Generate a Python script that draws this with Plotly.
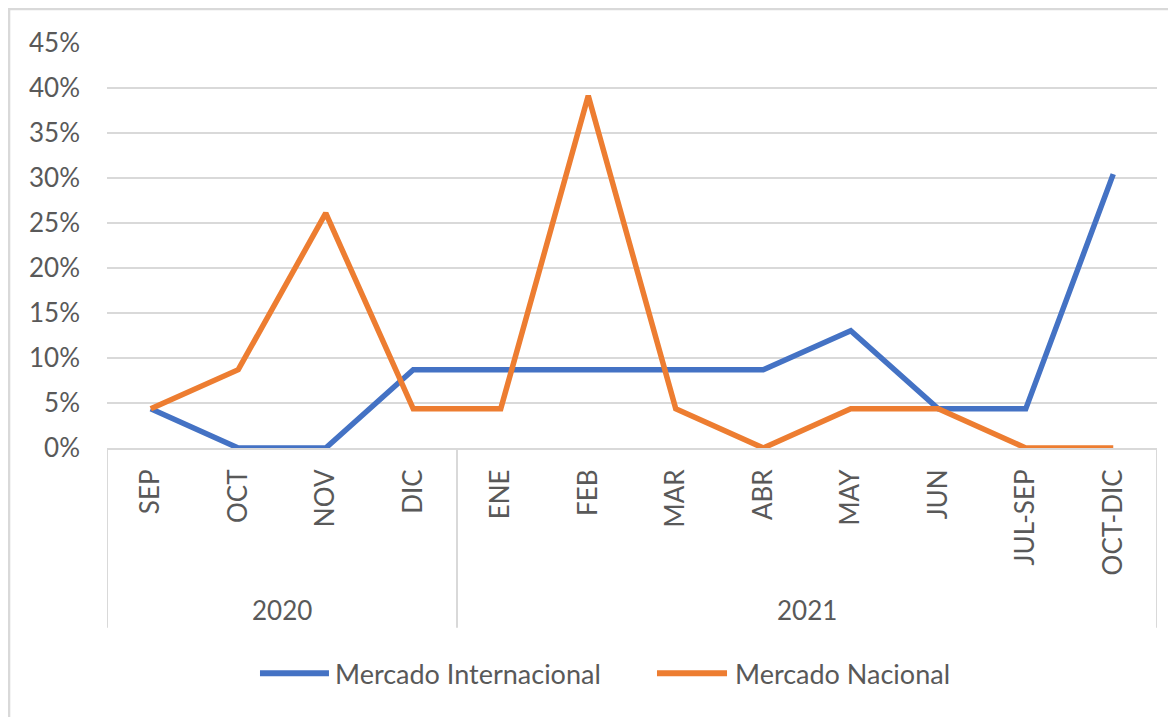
import plotly.graph_objects as go

# categories (two-level axis: year / period)
months = ['SEP', 'OCT', 'NOV', 'DIC', 'ENE', 'FEB', 'MAR', 'ABR',
          'MAY', 'JUN', 'JUL-SEP', 'OCT-DIC']
years = ['2020', '2021']
year_spans = [(0, 3), (4, 11)]

# series values (share of total)
internacional = [0.0435, 0.0, 0.0, 0.087, 0.087, 0.087, 0.087, 0.087,
                 0.1304, 0.0435, 0.0435, 0.3043]
nacional = [0.0435, 0.087, 0.2609, 0.0435, 0.0435, 0.3913, 0.0435, 0.0,
            0.0435, 0.0435, 0.0, 0.0]

names = ['Mercado Internacional', 'Mercado Nacional']
colors = ['#4472C4', '#ED7D31']

FONT = 'Lato'
GREY = '#595959'
GRID = '#D9D9D9'

fig = go.Figure()
for name, vals, col in zip(names, [internacional, nacional], colors):
    fig.add_trace(go.Scatter(
        x=months, y=vals, mode='lines', name=name,
        line=dict(color=col, width=5.5),
        showlegend=False))

shapes = []
# dividers of the year level
for i, (a, b) in enumerate(year_spans):
    for xv in ([a - 0.5, b + 0.5] if i == 0 else [b + 0.5]):
        shapes.append(dict(type='line', xref='x', yref='paper',
                           x0=xv, x1=xv, y0=0, y1=-0.444,
                           line=dict(color=GRID, width=2)))

annotations = []
for yr, (a, b) in zip(years, year_spans):
    annotations.append(dict(text=yr, xref='x', yref='paper',
                            x=(a + b) / 2, y=-0.40, showarrow=False,
                            yanchor='middle',
                            font=dict(family=FONT, size=26, color=GREY)))

# legend drawn by hand (long line samples like the original)
leg = [(0.1457, 0.2114, 0.2152), (0.5238, 0.5905, 0.5962)]
for (x0, x1, xt), name, col in zip(leg, names, colors):
    shapes.append(dict(type='line', xref='paper', yref='paper',
                       x0=x0, x1=x1, y0=-0.556, y1=-0.556,
                       line=dict(color=col, width=6)))
    annotations.append(dict(text=name, xref='paper', yref='paper',
                            x=xt, y=-0.556, xanchor='left', yanchor='middle',
                            showarrow=False,
                            font=dict(family=FONT, size=27, color=GREY)))

# chart area border
shapes.append(dict(type='rect', xref='paper', yref='paper',
                   x0=-0.0933, x1=1.03, y0=1.084, y1=-0.7,
                   line=dict(color=GRID, width=2.5), layer='below'))

# page body has an 8px margin, so the figure is 8px smaller
fig.update_layout(
    width=1168, height=709,
    margin=dict(l=99, r=19, t=35, b=269),
    paper_bgcolor='white', plot_bgcolor='white',
    font=dict(family=FONT, size=26, color=GREY),
    shapes=shapes, annotations=annotations,
    xaxis=dict(type='category', range=[-0.5, 11.5], tickangle=-90,
               showgrid=False, showline=True, linecolor=GRID, linewidth=2,
               ticks='', ticklabelstandoff=9, zeroline=False),
    yaxis=dict(range=[0, 0.45], dtick=0.05, tickformat='.0%',
               showgrid=True, gridcolor=GRID, gridwidth=2,
               zeroline=False, showline=False, ticks='',
               ticklabelstandoff=26),
)

fig.write_html('out.html')
